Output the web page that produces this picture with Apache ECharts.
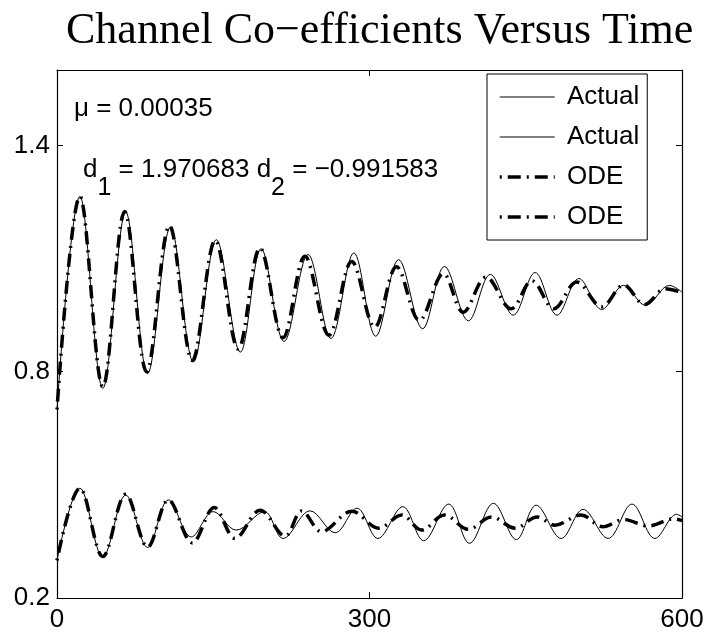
<!DOCTYPE html>
<html>
<head>
<meta charset="utf-8">
<script src="https://cdn.jsdelivr.net/npm/echarts@6/dist/echarts.min.js"></script>
<style>
  html, body { margin: 0; padding: 0; background: #fff; }
  #chart { width: 710px; height: 642px; }
</style>
</head>
<body>
<div id="chart"></div>
<script>
// time (x) and value (y) of each curve
var upperActualT = [0, 22, 44, 66, 87, 109, 131, 153, 176, 196, 218, 241, 263, 285, 306, 328, 351, 372, 395, 416, 438, 459, 480, 501, 523, 544, 565, 588, 600];
var upperActualV = [0.70, 1.265, 0.756, 1.223, 0.795, 1.184, 0.826, 1.150, 0.852, 1.126, 0.880, 1.111, 0.888, 1.115, 0.894, 1.097, 0.914, 1.079, 0.935, 1.058, 0.950, 1.063, 0.950, 1.047, 0.965, 1.029, 0.976, 1.029, 1.011];

var lowerActualT = [0, 22, 44, 66, 87, 107, 129, 150, 172, 199, 217, 243, 267, 288, 308, 332, 352, 376, 396, 419, 441, 460, 484, 505, 529, 552, 574, 595, 600];
var lowerActualV = [0.30, 0.491, 0.309, 0.473, 0.334, 0.460, 0.362, 0.429, 0.380, 0.429, 0.358, 0.431, 0.373, 0.438, 0.358, 0.442, 0.352, 0.449, 0.345, 0.451, 0.355, 0.446, 0.358, 0.435, 0.358, 0.449, 0.358, 0.422, 0.415];

var upperOdeT = [0, 22, 44, 65, 86, 108, 130, 152, 174, 195, 217, 238, 261, 283, 305, 326, 348, 371, 390, 412, 436, 456, 477, 499, 523, 544, 564, 584, 600];
var upperOdeV = [0.70, 1.265, 0.76, 1.225, 0.80, 1.187, 0.83, 1.148, 0.86, 1.128, 0.89, 1.106, 0.897, 1.092, 0.918, 1.078, 0.936, 1.06, 0.958, 1.051, 0.967, 1.041, 0.967, 1.038, 0.972, 1.03, 0.978, 1.02, 1.01];

var lowerOdeT = [0, 22, 44, 66, 87, 107, 130, 151, 171, 195, 219, 235, 254, 283, 309, 331, 350, 372, 395, 417, 440, 461, 478, 503, 524, 544, 568, 592, 600];
var lowerOdeV = [0.30, 0.491, 0.31, 0.475, 0.335, 0.46, 0.346, 0.44, 0.358, 0.433, 0.364, 0.431, 0.376, 0.43, 0.385, 0.42, 0.38, 0.42, 0.382, 0.415, 0.385, 0.415, 0.393, 0.42, 0.389, 0.408, 0.391, 0.41, 0.405];

// legend needs unique names; the trailing space is trimmed when shown
var seriesNames = ['Actual', 'Actual ', 'ODE', 'ODE '];

function zip(t, v) {
  return t.map(function (x, i) { return [x, v[i]]; });
}

var dom = document.getElementById('chart');
var myChart = echarts.init(dom, null, { renderer: 'canvas' });

var sans = 'Liberation Sans';
var thin = { color: '#000', width: 1 };
var dashDot = { color: '#000', width: 3.5, type: [13, 6, 2, 6], dashOffset: 19, cap: 'butt' };

var boxAxis = {
  axisLine: { show: true, onZero: false, lineStyle: { color: '#000', width: 1.2 } },
  axisTick: { show: true, inside: true, length: 6, lineStyle: { color: '#000' } },
  splitLine: { show: false }
};

var option = {
  animation: false,
  backgroundColor: '#fff',
  title: {
    text: 'Channel Co\u2212efficients Versus Time',
    left: 61,
    top: 4,
    textStyle: { fontFamily: 'Liberation Serif', fontSize: 44, fontWeight: 'normal', color: '#000' }
  },
  grid: { left: 57, right: 28, top: 70, bottom: 44 },
  legend: {
    orient: 'vertical',
    left: 487,
    top: 74,
    data: [
      { name: seriesNames[0], lineStyle: { width: 1 } },
      { name: seriesNames[1], lineStyle: { width: 1 } },
      { name: seriesNames[2], lineStyle: { width: 3.5, dashOffset: 19 } },
      { name: seriesNames[3], lineStyle: { width: 3.5, dashOffset: 19 } }
    ],
    formatter: function (name) { return ' ' + name.trim(); },
    itemWidth: 55,
    itemHeight: 25,
    itemGap: 14,
    padding: [10, 8, 10, 11],
    borderColor: '#000',
    borderWidth: 1,
    backgroundColor: '#fff',
    itemStyle: { opacity: 0, borderWidth: 0 },
    textStyle: { fontFamily: sans, fontSize: 26, color: '#000' }
  },
  xAxis: [
    Object.assign({
      type: 'value', min: 0, max: 600, interval: 300, position: 'bottom',
      axisLabel: { fontFamily: sans, fontSize: 26, color: '#000', margin: 9 }
    }, boxAxis),
    Object.assign({
      type: 'value', min: 0, max: 600, interval: 300, position: 'top',
      axisLabel: { show: false }
    }, boxAxis)
  ],
  yAxis: [
    Object.assign({
      type: 'value', min: 0.2, max: 1.6, interval: 0.6, position: 'left',
      axisLabel: {
        fontFamily: sans, fontSize: 26, color: '#000', margin: 7,
        formatter: function (v) { return Math.abs(v - 1.6) < 1e-6 ? '' : v.toFixed(1); }
      }
    }, boxAxis),
    Object.assign({
      type: 'value', min: 0.2, max: 1.6, interval: 0.6, position: 'right',
      axisLabel: { show: false }
    }, boxAxis)
  ],
  graphic: [
    {
      type: 'text', left: 74, top: 96, z: 100,
      style: { text: '\u03bc = 0.00035', fontFamily: sans, fontSize: 26, fill: '#000' }
    },
    {
      type: 'text', left: 83, top: 157, z: 100,
      style: {
        text: '{n|d}{s|1}{n| = 1.970683 d}{s|2}{n| = \u22120.991583}',
        fill: '#000',
        rich: {
          n: { fontFamily: sans, fontSize: 26, color: '#000', verticalAlign: 'top' },
          s: { fontFamily: sans, fontSize: 25, color: '#000', verticalAlign: 'top', padding: [19, 0, 0, 0] }
        }
      }
    }
  ],
  series: [
    { name: seriesNames[0], type: 'line', data: zip(upperActualT, upperActualV), smooth: 0.36, symbol: 'none', lineStyle: thin, itemStyle: { color: '#000' } },
    { name: seriesNames[1], type: 'line', data: zip(lowerActualT, lowerActualV), smooth: 0.36, symbol: 'none', lineStyle: thin, itemStyle: { color: '#000' } },
    { name: seriesNames[2], type: 'line', data: zip(upperOdeT, upperOdeV), smooth: 0.36, symbol: 'none', lineStyle: dashDot, itemStyle: { color: '#000' } },
    { name: seriesNames[3], type: 'line', data: zip(lowerOdeT, lowerOdeV), smooth: 0.36, symbol: 'none', lineStyle: dashDot, itemStyle: { color: '#000' } }
  ]
};

myChart.setOption(option);
window.onresize = myChart.resize;
</script>
</body>
</html>
